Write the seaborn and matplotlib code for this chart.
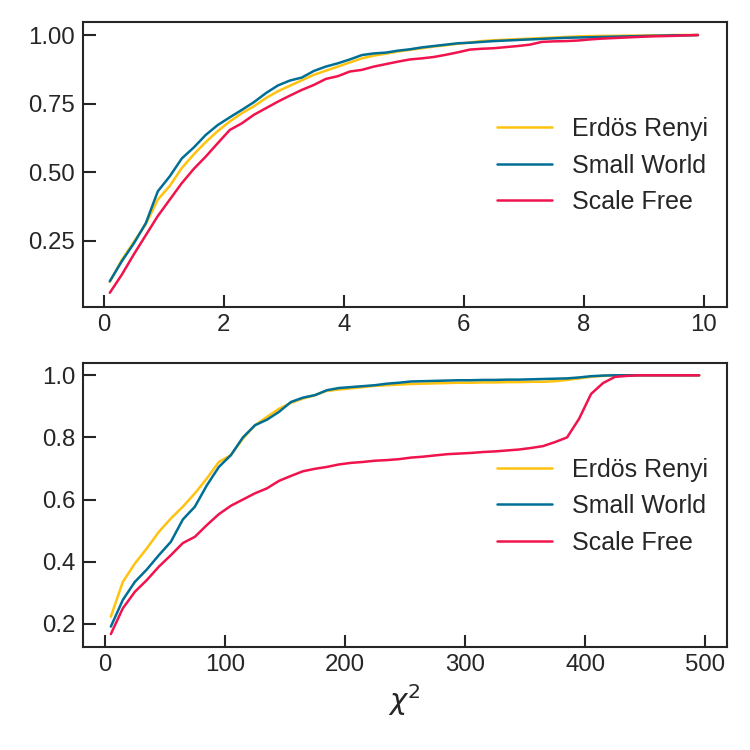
import numpy as np
import pandas as pd
import matplotlib
matplotlib.use("Agg")
import matplotlib.pyplot as plt
import seaborn as sns

# top panel: bin centres and cumulative fractions
x_top = np.arange(0.1, 10.0, 0.2)
er_top = [0.10, 0.18, 0.245, 0.31, 0.40, 0.45, 0.515, 0.565, 0.61, 0.65,
          0.685, 0.715, 0.74, 0.77, 0.795, 0.815, 0.835, 0.855, 0.87, 0.885,
          0.90, 0.915, 0.925, 0.932, 0.94, 0.946, 0.952, 0.958, 0.963, 0.968,
          0.973, 0.978, 0.981, 0.983, 0.985, 0.987, 0.989, 0.991, 0.993, 0.995,
          0.996, 0.997, 0.997, 0.998, 0.998, 0.999, 0.999, 1.0, 1.0, 1.0]
sw_top = [0.102, 0.175, 0.24, 0.314, 0.43, 0.485, 0.55, 0.59, 0.636, 0.672,
          0.70, 0.727, 0.755, 0.788, 0.816, 0.834, 0.845, 0.869, 0.885, 0.897,
          0.911, 0.927, 0.933, 0.936, 0.943, 0.948, 0.955, 0.96, 0.965, 0.97,
          0.972, 0.975, 0.978, 0.98, 0.982, 0.984, 0.986, 0.988, 0.99, 0.991,
          0.992, 0.993, 0.994, 0.995, 0.996, 0.997, 0.998, 0.999, 0.999, 1.0]
sf_top = [0.06, 0.126, 0.20, 0.27, 0.34, 0.40, 0.46, 0.512, 0.557, 0.606,
          0.654, 0.678, 0.709, 0.733, 0.757, 0.779, 0.80, 0.818, 0.84, 0.85,
          0.867, 0.873, 0.885, 0.894, 0.903, 0.911, 0.915, 0.92, 0.928, 0.937,
          0.947, 0.95, 0.952, 0.956, 0.96, 0.965, 0.975, 0.977, 0.978, 0.98,
          0.984, 0.987, 0.989, 0.991, 0.993, 0.995, 0.996, 0.997, 0.999, 1.0]

# bottom panel
x_bot = np.arange(5, 500, 10)
er_bot = [0.223, 0.335, 0.394, 0.443, 0.496, 0.539, 0.577, 0.62, 0.668, 0.721,
          0.743, 0.796, 0.839, 0.866, 0.892, 0.911, 0.925, 0.936, 0.95, 0.954,
          0.958, 0.962, 0.966, 0.968, 0.97, 0.972, 0.973, 0.974, 0.975, 0.976,
          0.976, 0.977, 0.977, 0.978, 0.978, 0.979, 0.979, 0.981, 0.985, 0.99,
          0.995, 0.998, 1.0, 1.0, 1.0, 1.0, 1.0, 1.0, 1.0, 1.0]
sw_bot = [0.191, 0.277, 0.335, 0.375, 0.421, 0.464, 0.536, 0.577, 0.646, 0.705,
          0.743, 0.80, 0.839, 0.857, 0.882, 0.914, 0.928, 0.936, 0.952, 0.959,
          0.962, 0.965, 0.968, 0.973, 0.976, 0.98, 0.981, 0.982, 0.983, 0.984,
          0.984, 0.985, 0.985, 0.986, 0.986, 0.987, 0.988, 0.989, 0.99, 0.993,
          0.997, 0.999, 1.0, 1.0, 1.0, 1.0, 1.0, 1.0, 1.0, 1.0]
sf_bot = [0.167, 0.25, 0.303, 0.341, 0.384, 0.421, 0.46, 0.48, 0.518, 0.553,
          0.58, 0.60, 0.62, 0.636, 0.66, 0.676, 0.691, 0.699, 0.705, 0.713,
          0.718, 0.721, 0.725, 0.727, 0.73, 0.735, 0.738, 0.742, 0.746, 0.748,
          0.75, 0.753, 0.755, 0.758, 0.761, 0.766, 0.772, 0.785, 0.80, 0.86,
          0.94, 0.975, 0.995, 0.998, 1.0, 1.0, 1.0, 1.0, 1.0, 1.0]

labels = ["Erdös Renyi", "Small World", "Scale Free"]
colors = ["#FFC20E", "#006F96", "#F0134D"]

sns.set_style("ticks")
plt.rcParams["font.family"] = ["Liberation Sans", "DejaVu Sans"]
plt.rcParams["xtick.direction"] = "in"
plt.rcParams["ytick.direction"] = "in"

fig, axes = plt.subplots(2, 1, figsize=(5, 5), dpi=150)
axes[0].set_position([0.110, 0.591, 0.859, 0.380])
axes[1].set_position([0.110, 0.138, 0.859, 0.378])

panels = [(x_top, [er_top, sw_top, sf_top]), (x_bot, [er_bot, sw_bot, sf_bot])]
for ax, (xs, series) in zip(axes, panels):
    for lab, col, ys in zip(labels, colors, series):
        df = pd.DataFrame({"x": xs, "y": ys})
        sns.lineplot(data=df, x="x", y="y", ax=ax, color=col, lw=1.2, label=lab)
    ax.set_xlabel("")
    ax.set_ylabel("")
    for s in ax.spines.values():
        s.set_linewidth(1.0)
        s.set_color("#262626")
    ax.tick_params(length=6, width=1.0, labelsize=11.5, colors="#262626")
    ax.legend(frameon=False, fontsize=12, loc="center right",
              bbox_to_anchor=(1.006, 0.495), handlelength=2.2)

axes[0].set_xlim(-0.355, 10.38)
axes[0].set_ylim(0.009, 1.0485)
axes[0].set_yticks([0.25, 0.5, 0.75, 1.0])
axes[0].set_xticks([0, 2, 4, 6, 8, 10])

axes[1].set_xlim(-18.6, 518)
axes[1].set_ylim(0.127, 1.0395)
axes[1].set_yticks([0.2, 0.4, 0.6, 0.8, 1.0])
axes[1].set_xticks([0, 100, 200, 300, 400, 500])
axes[1].set_xlabel(r"$\chi^2$", fontsize=14, labelpad=3)

fig.savefig("out.png", dpi=150)
